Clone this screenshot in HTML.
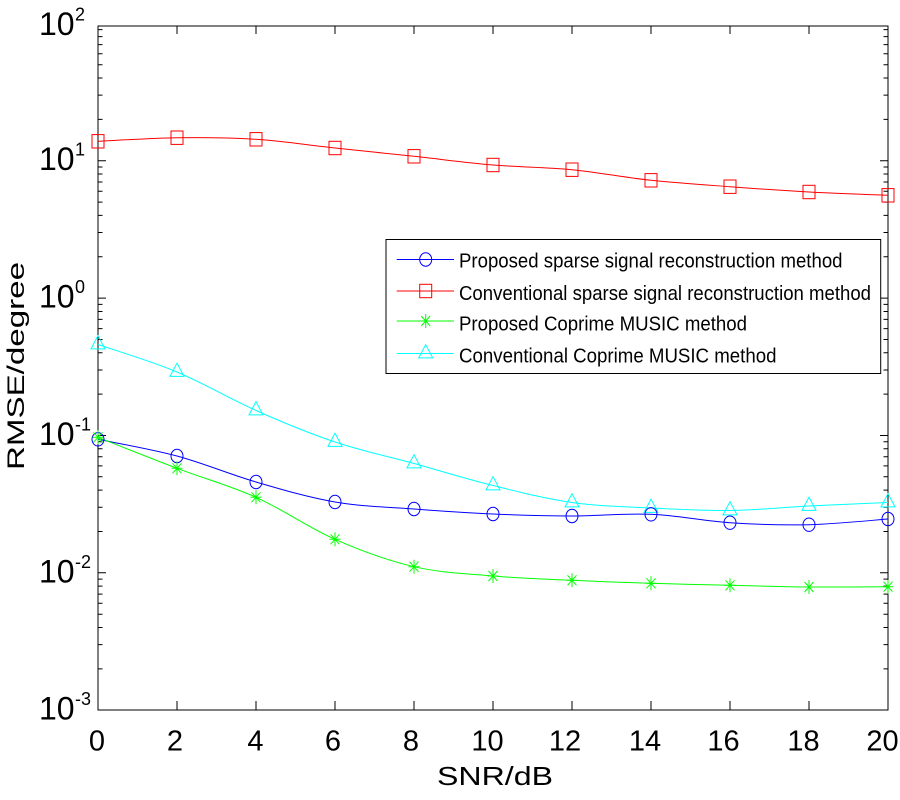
<!DOCTYPE html>
<html>
<head>
<meta charset="utf-8">
<style>
html,body{margin:0;padding:0;background:#fff;}
svg{display:block;}
text{font-family:"Liberation Sans", Arial, sans-serif;fill:#000;}
</style>
</head>
<body>
<svg width="900" height="800" viewBox="0 0 900 800" xmlns="http://www.w3.org/2000/svg">
<defs>
  <ellipse id="mc" cx="0" cy="0" rx="6" ry="6.7" fill="none" stroke="#0000ff" stroke-width="1"/>
  <rect id="ms" x="-6" y="-6.7" width="12" height="13.4" fill="none" stroke="#ff0000" stroke-width="1"/>
  <path id="mst" d="M0,-7V7M-5.5,0H5.5M-4.5,-5L4.5,5M-4.5,5L4.5,-5" fill="none" stroke="#00ff00" stroke-width="1"/>
  <path id="mt" d="M0,-8.8L7,4.4L-7,4.4Z" fill="none" stroke="#00ffff" stroke-width="1"/>
</defs>
<rect x="0" y="0" width="900" height="800" fill="#fff"/>

<!-- axes box -->
<rect x="98" y="26" width="790" height="684" fill="none" stroke="#000" stroke-width="1"/>

<!-- y major ticks -->
<path d="M98,160.7H106M98,298.1H106M98,435.5H106M98,572.8H106M888,160.7H880M888,298.1H880M888,435.5H880M888,572.8H880" stroke="#000" stroke-width="1"/>
<!-- y minor ticks left -->
<path stroke="#000" stroke-width="1" d="
M98,668.85h4.5M98,644.66h4.5M98,627.5h4.5M98,614.19h4.5M98,603.31h4.5M98,594.12h4.5M98,586.15h4.5M98,579.12h4.5
M98,531.45h4.5M98,507.26h4.5M98,490.1h4.5M98,476.79h4.5M98,465.91h4.5M98,456.72h4.5M98,448.75h4.5M98,441.72h4.5
M98,394.15h4.5M98,369.96h4.5M98,352.8h4.5M98,339.49h4.5M98,328.61h4.5M98,319.42h4.5M98,311.45h4.5M98,304.42h4.5
M98,256.75h4.5M98,232.56h4.5M98,215.4h4.5M98,202.09h4.5M98,191.21h4.5M98,182.02h4.5M98,174.05h4.5M98,167.02h4.5
M98,119.35h4.5M98,95.16h4.5M98,78h4.5M98,64.69h4.5M98,53.81h4.5M98,44.62h4.5M98,36.65h4.5M98,29.62h4.5
M888,668.85h-4.5M888,644.66h-4.5M888,627.5h-4.5M888,614.19h-4.5M888,603.31h-4.5M888,594.12h-4.5M888,586.15h-4.5M888,579.12h-4.5
M888,531.45h-4.5M888,507.26h-4.5M888,490.1h-4.5M888,476.79h-4.5M888,465.91h-4.5M888,456.72h-4.5M888,448.75h-4.5M888,441.72h-4.5
M888,394.15h-4.5M888,369.96h-4.5M888,352.8h-4.5M888,339.49h-4.5M888,328.61h-4.5M888,319.42h-4.5M888,311.45h-4.5M888,304.42h-4.5
M888,256.75h-4.5M888,232.56h-4.5M888,215.4h-4.5M888,202.09h-4.5M888,191.21h-4.5M888,182.02h-4.5M888,174.05h-4.5M888,167.02h-4.5
M888,119.35h-4.5M888,95.16h-4.5M888,78h-4.5M888,64.69h-4.5M888,53.81h-4.5M888,44.62h-4.5M888,36.65h-4.5M888,29.62h-4.5"/>
<!-- x ticks -->
<path stroke="#000" stroke-width="1" d="
M177,710v-9M256,710v-9M335,710v-9M414,710v-9M493,710v-9M572,710v-9M651,710v-9M730,710v-9M809,710v-9
M177,26v8M256,26v8M335,26v8M414,26v8M493,26v8M572,26v8M651,26v8M730,26v8M809,26v8"/>

<!-- y tick labels -->
<g font-size="32">
  <text x="39" y="35">10</text>
  <text x="39" y="170">10</text>
  <text x="39" y="307.5">10</text>
  <text x="39" y="445">10</text>
  <text x="39" y="582.5">10</text>
  <text x="39" y="719.5">10</text>
</g>
<g font-size="18">
  <text x="75" y="20.7">2</text>
  <text x="75" y="155.7">1</text>
  <text x="75" y="293.2">0</text>
  <text x="75" y="430.7">-1</text>
  <text x="75" y="568.2">-2</text>
  <text x="75" y="705.2">-3</text>
</g>

<!-- x tick labels -->
<g font-size="29" text-anchor="middle">
  <text x="97" y="750.7">0</text>
  <text x="175" y="750.7">2</text>
  <text x="255.5" y="750.7">4</text>
  <text x="333" y="750.7">6</text>
  <text x="411" y="750.7">8</text>
  <text x="487.5" y="750.7">10</text>
  <text x="565" y="750.7">12</text>
  <text x="645" y="750.7">14</text>
  <text x="723.5" y="750.7">16</text>
  <text x="803.5" y="750.7">18</text>
  <text x="882.5" y="750.7">20</text>
</g>

<!-- axis labels -->
<text x="437" y="785" font-size="26" textLength="116" lengthAdjust="spacingAndGlyphs">SNR/dB</text>
<text transform="translate(24,470) rotate(-90)" x="0" y="0" font-size="24" textLength="208" lengthAdjust="spacingAndGlyphs">RMSE/degree</text>

<!-- series lines -->
<path fill="none" stroke="#ff0000" stroke-width="1" d="M98,141.3 C111.2,140.7 150.7,138.0 177,137.7 C203.3,137.4 229.7,137.6 256,139.3 C282.3,141.0 308.7,145.2 335,148 C361.3,150.8 387.7,153.5 414,156.3 C440.3,159.1 466.7,162.8 493,165 C519.3,167.2 545.7,167.2 572,169.7 C598.3,172.3 624.7,177.5 651,180.3 C677.3,183.1 703.7,184.8 730,186.7 C756.3,188.7 782.7,190.6 809,192 C835.3,193.4 874.8,194.8 888,195.3"/>
<path fill="none" stroke="#00ffff" stroke-width="1" d="M98,344.5 C111.2,349.1 150.7,361 177,372 C203.3,383 229.7,398.8 256,410.5 C282.3,422.2 308.7,433.2 335,442 C361.3,450.8 387.7,456.3 414,463.5 C440.3,470.8 466.7,479 493,485.5 C519.3,492 545.7,498.8 572,502.5 C598.3,506.3 624.7,506.7 651,508 C677.3,509.3 703.7,510.8 730,510.5 C756.3,510.2 782.7,507.3 809,506 C835.3,504.7 874.8,503.1 888,502.5"/>
<path fill="none" stroke="#0000ff" stroke-width="1" d="M98,439.3 C111.2,442.1 150.7,448.9 177,456 C203.3,463.1 229.7,474.3 256,482 C282.3,489.7 308.7,497.5 335,502 C361.3,506.5 387.7,507 414,509 C440.3,511 466.7,512.8 493,514 C519.3,515.2 545.7,516 572,516 C598.3,516 624.7,513.2 651,514.3 C677.3,515.4 703.7,521 730,522.7 C756.3,524.4 782.7,525.3 809,524.7 C835.3,524.1 874.8,520 888,519"/>
<path fill="none" stroke="#00ff00" stroke-width="1" d="M98,437.3 C111.2,442.5 150.7,458.3 177,468.3 C203.3,478.3 229.7,485.5 256,497.3 C282.3,509.1 308.7,527.7 335,539.3 C361.3,550.9 387.7,560.6 414,566.7 C440.3,572.8 466.7,573.7 493,576 C519.3,578.3 545.7,579.1 572,580.3 C598.3,581.5 624.7,582.5 651,583.3 C677.3,584.1 703.7,584.7 730,585.3 C756.3,585.9 782.7,586.8 809,587 C835.3,587.2 874.8,586.8 888,586.7"/>

<!-- red squares -->
<use href="#ms" x="98" y="141.3"/><use href="#ms" x="177" y="137.7"/><use href="#ms" x="256" y="139.3"/><use href="#ms" x="335" y="148"/><use href="#ms" x="414" y="156.3"/><use href="#ms" x="493" y="165"/><use href="#ms" x="572" y="169.7"/><use href="#ms" x="651" y="180.3"/><use href="#ms" x="730" y="186.7"/><use href="#ms" x="809" y="192"/><use href="#ms" x="888" y="195.3"/>
<!-- cyan triangles -->
<use href="#mt" x="98" y="344.5"/><use href="#mt" x="177" y="372"/><use href="#mt" x="256" y="410.5"/><use href="#mt" x="335" y="442"/><use href="#mt" x="414" y="463.5"/><use href="#mt" x="493" y="485.5"/><use href="#mt" x="572" y="502.5"/><use href="#mt" x="651" y="508"/><use href="#mt" x="730" y="510.5"/><use href="#mt" x="809" y="506"/><use href="#mt" x="888" y="502.5"/>
<!-- blue circles -->
<use href="#mc" x="98" y="439.3"/><use href="#mc" x="177" y="456"/><use href="#mc" x="256" y="482"/><use href="#mc" x="335" y="502"/><use href="#mc" x="414" y="509"/><use href="#mc" x="493" y="514"/><use href="#mc" x="572" y="516"/><use href="#mc" x="651" y="514.3"/><use href="#mc" x="730" y="522.7"/><use href="#mc" x="809" y="524.7"/><use href="#mc" x="888" y="519"/>
<!-- green stars -->
<use href="#mst" x="98" y="437.3"/><use href="#mst" x="177" y="468.3"/><use href="#mst" x="256" y="497.3"/><use href="#mst" x="335" y="539.3"/><use href="#mst" x="414" y="566.7"/><use href="#mst" x="493" y="576"/><use href="#mst" x="572" y="580.3"/><use href="#mst" x="651" y="583.3"/><use href="#mst" x="730" y="585.3"/><use href="#mst" x="809" y="587"/><use href="#mst" x="888" y="586.7"/>

<!-- legend -->
<rect x="386" y="239.5" width="494.7" height="134" fill="#fff" stroke="#000" stroke-width="1"/>
<path d="M396.7,259.5H454" stroke="#0000ff" stroke-width="1"/>
<use href="#mc" x="425.7" y="259.5"/>
<path d="M396.7,291H454" stroke="#ff0000" stroke-width="1"/>
<use href="#ms" x="425.7" y="291"/>
<path d="M396.7,321H454" stroke="#00ff00" stroke-width="1"/>
<use href="#mst" x="425.7" y="321"/>
<path d="M396.7,353.5H454" stroke="#00ffff" stroke-width="1"/>
<use href="#mt" x="425.7" y="353.5"/>
<g font-size="20">
  <text x="459" y="267.5" textLength="383.5" lengthAdjust="spacingAndGlyphs">Proposed sparse signal reconstruction method</text>
  <text x="459" y="300" textLength="412" lengthAdjust="spacingAndGlyphs">Conventional sparse signal reconstruction method</text>
  <text x="459" y="330.5" textLength="288" lengthAdjust="spacingAndGlyphs">Proposed Coprime MUSIC method</text>
  <text x="459" y="362.5" textLength="317.5" lengthAdjust="spacingAndGlyphs">Conventional Coprime MUSIC method</text>
</g>
</svg>
</body>
</html>
